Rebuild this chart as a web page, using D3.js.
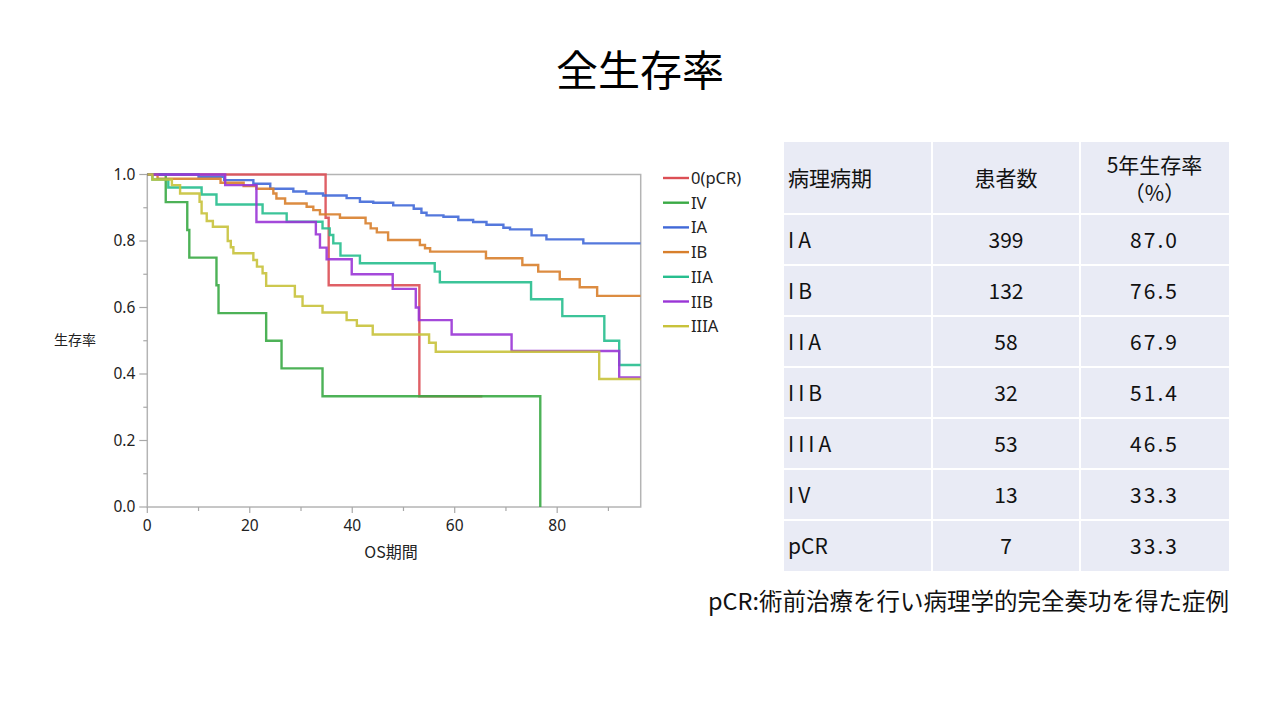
<!DOCTYPE html>
<html>
<head>
<meta charset="utf-8">
<script src="https://d3js.org/d3.v7.min.js"></script>
<style>
  body { margin: 0; background: #fff; }
  svg { display: block; }
  .tick-label { font-family: "Noto Sans", "DejaVu Sans", sans-serif; font-size: 15.5px; fill: #222; }
  .cell { font-family: "Noto Sans CJK JP", sans-serif; font-size: 21px; fill: #111; }
</style>
</head>
<body>
<svg id="chart" width="1280" height="720"></svg>
<script>
// ---- data ----
const seriesNames = ["0(pCR)", "IV", "IA", "IB", "IIA", "IIB", "IIIA"];
const seriesColors = ["#dc4f55", "#3aaa45", "#4169d8", "#d87f2c", "#27be8e", "#9a35d6", "#c8c23b"];

const pcrT = [0, 34.8, 35.4, 53.1, 65.4];
const pcrS = [1, 0.87, 0.667, 0.333, 0.333];

const ivT = [0, 3.6, 7.8, 8.2, 13.5, 13.9, 23.2, 26.2, 34.2, 76.7];
const ivS = [1, 0.917, 0.833, 0.75, 0.667, 0.583, 0.5, 0.417, 0.333, 0];

const iaT = [0, 10, 15, 20.7, 24, 28.5, 31, 34.3, 38.9, 41.5, 44.1, 48, 52, 53.5, 54.5, 57.8, 60.7, 63.6, 66.2, 69.5, 70.8, 75, 77.9, 85.1, 96.3];
const iaS = [1, 0.993, 0.983, 0.972, 0.957, 0.949, 0.943, 0.937, 0.929, 0.918, 0.915, 0.907, 0.897, 0.885, 0.877, 0.873, 0.863, 0.857, 0.849, 0.84, 0.835, 0.817, 0.805, 0.793, 0.793];

const ibT = [0, 2, 14.3, 18.8, 21.3, 24.6, 25.2, 26.9, 31.1, 32.4, 33.7, 37.6, 42.6, 43.6, 44.8, 47, 53.2, 54.2, 55.2, 66.1, 73.2, 76.3, 80.5, 84.4, 87.8, 96.3];
const ibS = [1, 0.987, 0.975, 0.965, 0.957, 0.943, 0.928, 0.913, 0.903, 0.893, 0.88, 0.87, 0.853, 0.838, 0.826, 0.803, 0.788, 0.778, 0.768, 0.748, 0.728, 0.708, 0.685, 0.661, 0.635, 0.635];

const iiaT = [0, 1, 4.1, 10.6, 13.5, 22.5, 27.2, 34.2, 35.6, 36.3, 37.7, 41.5, 56.1, 57.1, 74.9, 81, 89.2, 92.1, 96.3];
const iiaS = [1, 0.985, 0.961, 0.94, 0.91, 0.883, 0.858, 0.838, 0.818, 0.793, 0.756, 0.733, 0.708, 0.676, 0.625, 0.574, 0.5, 0.427, 0.427];

const iibT = [0, 15.2, 21.3, 32.9, 33.7, 35, 39.9, 47.9, 52.4, 53, 59.4, 71.1, 92.1, 96.3];
const iibS = [1, 0.968, 0.857, 0.82, 0.78, 0.745, 0.70, 0.656, 0.6, 0.562, 0.519, 0.469, 0.39, 0.39];

const iiiaT = [0, 1, 4.8, 6.4, 10.2, 10.6, 11.6, 12.8, 15.7, 16.3, 16.8, 20.7, 21.4, 22.5, 23.2, 28.8, 30.3, 34.2, 38.9, 40.9, 44, 55, 56.3, 88.2, 96.3];
const iiiaS = [1, 0.985, 0.968, 0.943, 0.918, 0.883, 0.86, 0.843, 0.80, 0.781, 0.763, 0.743, 0.723, 0.703, 0.665, 0.633, 0.605, 0.585, 0.562, 0.545, 0.519, 0.494, 0.467, 0.385, 0.385];

const seriesT = [pcrT, ivT, iaT, ibT, iiaT, iibT, iiiaT];
const seriesS = [pcrS, ivS, iaS, ibS, iiaS, iibS, iiiaS];

const xTicks = [0, 20, 40, 60, 80];
const xMinor = [10, 30, 50, 70, 90];
const yTicks = [0, 0.2, 0.4, 0.6, 0.8, 1.0];
const yMinor = [0.1, 0.3, 0.5, 0.7, 0.9];

// table
const tableHeader = ["病理病期", "患者数", "5年生存率"];
const tableStages = ["IA", "IB", "IIA", "IIB", "IIIA", "IV", "pCR"];
const tablePatients = [399, 132, 58, 32, 53, 13, 7];
const tableRates = ["87.0", "76.5", "67.9", "51.4", "46.5", "33.3", "33.3"];

// ---- chart ----
const svg = d3.select("#chart");

svg.append("text")
    .text("全生存率")
    .attr("x", 640).attr("y", 86)
    .attr("text-anchor", "middle")
    .style("font-family", "'Noto Sans CJK JP', sans-serif")
    .style("font-size", "42px")
    .attr("fill", "#000");

const x = d3.scaleLinear().domain([0, 96.3]).range([147.3, 640.7]);
const y = d3.scaleLinear().domain([0, 1]).range([507, 174.5]);

svg.append("clipPath").attr("id", "plotclip")
  .append("rect")
    .attr("x", x(0)).attr("y", y(1) - 3)
    .attr("width", x(96.3) - x(0)).attr("height", y(0) - y(1) + 4);

// frame
svg.append("rect")
    .attr("x", x(0)).attr("y", y(1))
    .attr("width", x(96.3) - x(0)).attr("height", y(0) - y(1))
    .attr("fill", "none").attr("stroke", "#b4b4b4").attr("stroke-width", 1.5);

// axis ticks
yTicks.forEach(v => {
  svg.append("line").attr("x1", x(0) - 8).attr("x2", x(0))
     .attr("y1", y(v)).attr("y2", y(v)).attr("stroke", "#a8a8a8").attr("stroke-width", 1.2);
  svg.append("text").attr("class", "tick-label")
     .text(v.toFixed(1))
     .attr("x", x(0) - 12).attr("y", y(v) + 5)
     .attr("text-anchor", "end");
});
yMinor.forEach(v => {
  svg.append("line").attr("x1", x(0) - 4).attr("x2", x(0))
     .attr("y1", y(v)).attr("y2", y(v)).attr("stroke", "#a8a8a8").attr("stroke-width", 1.2);
});
xTicks.forEach(v => {
  svg.append("line").attr("x1", x(v)).attr("x2", x(v))
     .attr("y1", y(0)).attr("y2", y(0) + 6).attr("stroke", "#a8a8a8").attr("stroke-width", 1.2);
  svg.append("text").attr("class", "tick-label")
     .text(v)
     .attr("x", x(v)).attr("y", y(0) + 24)
     .attr("text-anchor", "middle");
});
xMinor.forEach(v => {
  svg.append("line").attr("x1", x(v)).attr("x2", x(v))
     .attr("y1", y(0)).attr("y2", y(0) + 4).attr("stroke", "#a8a8a8").attr("stroke-width", 1.2);
});

svg.append("text").attr("class", "tick-label")
    .text("OS期間")
    .attr("x", 391).attr("y", 558)
    .attr("text-anchor", "middle")
    .style("font-family", "'Noto Sans CJK JP', sans-serif")
    .style("font-size", "16px");
svg.append("text").attr("class", "tick-label")
    .text("生存率")
    .attr("x", 54).attr("y", 345)
    .style("font-family", "'Noto Sans CJK JP', sans-serif")
    .style("font-size", "14px");

// curves
const line = d3.line()
    .x(d => x(d[0]))
    .y(d => y(d[1]))
    .curve(d3.curveStepAfter);

const curves = svg.append("g").attr("clip-path", "url(#plotclip)");
seriesNames.forEach((name, i) => {
  const pts = seriesT[i].map((t, j) => [t, seriesS[i][j]]);
  curves.append("path")
      .attr("d", line(pts))
      .attr("fill", "none")
      .attr("stroke", seriesColors[i])
      .attr("stroke-width", 2.4)
      .attr("opacity", 0.9);
});

// legend
seriesNames.forEach((name, i) => {
  const ly = 178 + i * 24.7;
  svg.append("line")
     .attr("x1", 663).attr("x2", 689)
     .attr("y1", ly).attr("y2", ly)
     .attr("stroke", seriesColors[i]).attr("stroke-width", 2.4);
  svg.append("text").attr("class", "tick-label")
     .text(name)
     .attr("x", 691).attr("y", ly + 6)
     .style("font-size", "16.5px");
});

// ---- table ----
const colX = [784, 932, 1080, 1229];
const rowY = [142, 214];
tableStages.forEach((d, i) => rowY.push(214 + (i + 1) * 51));

svg.append("rect")
    .attr("x", colX[0]).attr("y", rowY[0])
    .attr("width", colX[3] - colX[0]).attr("height", rowY[rowY.length - 1] - rowY[0])
    .attr("fill", "#e9ebf5");

rowY.slice(1, -1).forEach(ry => {
  svg.append("line").attr("x1", colX[0]).attr("x2", colX[3])
     .attr("y1", ry).attr("y2", ry).attr("stroke", "#fff").attr("stroke-width", 2);
});
colX.slice(1, -1).forEach(cx => {
  svg.append("line").attr("x1", cx).attr("x2", cx)
     .attr("y1", rowY[0]).attr("y2", rowY[rowY.length - 1]).attr("stroke", "#fff").attr("stroke-width", 2);
});

svg.append("text").attr("class", "cell").text(tableHeader[0])
    .attr("x", 788).attr("y", 186);
svg.append("text").attr("class", "cell").text(tableHeader[1])
    .attr("x", (colX[1] + colX[2]) / 2).attr("y", 186).attr("text-anchor", "middle");
svg.append("text").attr("class", "cell").text(tableHeader[2])
    .attr("x", (colX[2] + colX[3]) / 2).attr("y", 173).attr("text-anchor", "middle");
svg.append("text").attr("class", "cell").text("（%）")
    .attr("x", (colX[2] + colX[3]) / 2).attr("y", 201).attr("text-anchor", "middle");

tableStages.forEach((s, i) => {
  const cy = (rowY[i + 1] + rowY[i + 2]) / 2 + 8;
  svg.append("text").attr("class", "cell").text(s)
     .attr("x", 788).attr("y", cy)
     .attr("letter-spacing", s === "pCR" ? 0 : 4);
  svg.append("text").attr("class", "cell").text(tablePatients[i])
     .attr("x", (colX[1] + colX[2]) / 2).attr("y", cy).attr("text-anchor", "middle");
  svg.append("text").attr("class", "cell").text(tableRates[i])
     .attr("x", (colX[2] + colX[3]) / 2).attr("y", cy).attr("text-anchor", "middle")
     .attr("letter-spacing", 2);
});

svg.append("text").attr("class", "cell")
    .text("pCR:術前治療を行い病理学的完全奏功を得た症例")
    .attr("x", 1229).attr("y", 610)
    .attr("text-anchor", "end")
    .style("font-size", "23.5px");
</script>
</body>
</html>
